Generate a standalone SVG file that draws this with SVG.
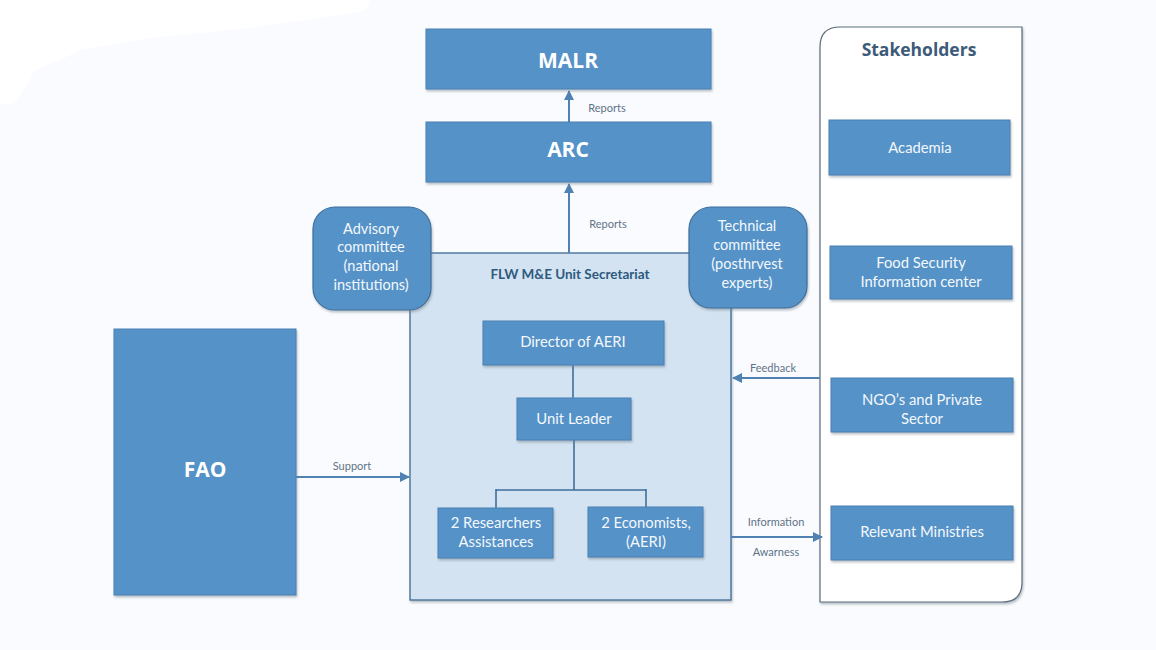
<svg xmlns="http://www.w3.org/2000/svg" width="1156" height="650" viewBox="0 0 1156 650">
<defs>
<filter id="sh" x="-10%" y="-10%" width="120%" height="130%">
<feDropShadow dx="1" dy="2" stdDeviation="1.2" flood-color="#6b7a88" flood-opacity="0.45"/>
</filter>
<marker id="ah" viewBox="0 0 10 10" refX="9" refY="5" markerWidth="5" markerHeight="5" orient="auto">
<path d="M0,0 L10,5 L0,10 z" fill="#4f82b3"/>
</marker>
<style>
.box{fill:#5592c8;stroke:#4a80b3;stroke-width:1;filter:url(#sh)}
.rbox{fill:#5592c8;stroke:#3f6f9c;stroke-width:1.2;filter:url(#sh)}
.t{font-family:Lato,"Open Sans",sans-serif;fill:#f4f8fc;text-anchor:middle;font-size:14.8px}
.tc{font-family:Lato,"Open Sans",sans-serif;fill:#f4f8fc;text-anchor:middle;font-size:14.5px}
.tb{font-family:"Open Sans",Lato,sans-serif;fill:#ffffff;text-anchor:middle;font-size:21px;font-weight:bold}
.lbl{font-family:Lato,"Open Sans",sans-serif;fill:#5f7387;text-anchor:middle;font-size:11px}
.con{stroke:#4f82b3;stroke-width:2;fill:none}
.line{stroke:#3f6f9c;stroke-width:1.6;fill:none}
</style>
</defs>
<rect width="1156" height="650" fill="#f9fbfe"/>
<path d="M0,0 H370 Q368,10 360,12 L250,28 L150,38 L80,50 Q70,55 60,60 L35,70 Q20,100 10,105 L0,104 Z" fill="#ffffff"/>

<g id="stakeholders">
<path d="M840,27 H1022 V582 Q1022,602 1002,602 H820 V47 Q820,27 840,27 Z" fill="#ffffff" stroke="#5c6c7c" stroke-width="1.2" filter="url(#sh)"/>
<text x="919" y="56" font-family="'Open Sans',Lato,sans-serif" font-size="17.5" font-weight="bold" fill="#3d5a78" text-anchor="middle">Stakeholders</text>
</g>

<g id="secretariat">
<rect x="410" y="253" width="321" height="347" fill="#d3e3f1" stroke="#3d6b94" stroke-width="1.3" filter="url(#sh)"/>
<text x="570" y="279" font-family="Lato,'Open Sans',sans-serif" font-size="13.5" font-weight="bold" fill="#2e5a80" text-anchor="middle">FLW M&amp;E Unit Secretariat</text>
</g>

<g id="connectors">
<line class="con" x1="569" y1="122" x2="569" y2="91" marker-end="url(#ah)"/>
<text class="lbl" x="607" y="112">Reports</text>
<line class="con" x1="569" y1="253" x2="569" y2="184" marker-end="url(#ah)"/>
<text class="lbl" x="608" y="228">Reports</text>
<line class="con" x1="296" y1="477" x2="409" y2="477" marker-end="url(#ah)"/>
<text class="lbl" x="352" y="470">Support</text>
<line class="con" x1="820" y1="378" x2="733" y2="378" marker-end="url(#ah)"/>
<text class="lbl" x="773" y="372">Feedback</text>
<line class="con" x1="731" y1="537" x2="822" y2="537" marker-end="url(#ah)"/>
<text class="lbl" x="776" y="526">Information</text>
<text class="lbl" x="776" y="556">Awarness</text>
<path class="line" d="M573,365 V398"/>
<path class="line" d="M574,440 V490 M496,490 H646 M496,489 V508 M646,489 V507"/>
</g>

<g id="malr"><rect class="box" x="426" y="29" width="285" height="60"/><text class="tb" x="568" y="68">MALR</text></g>
<g id="arc"><rect class="box" x="426" y="122" width="285" height="60"/><text class="tb" x="568" y="157">ARC</text></g>

<g id="advisory"><rect class="rbox" x="313" y="207" width="118" height="103" rx="22"/>
<text class="tc" x="371" y="234">Advisory</text><text class="tc" x="371" y="252">committee</text><text class="tc" x="371" y="271">(national</text><text class="tc" x="371" y="290">institutions)</text></g>

<g id="technical"><rect class="rbox" x="689" y="207" width="118" height="101" rx="22"/>
<text class="tc" x="747" y="231">Technical</text><text class="tc" x="747" y="250">committee</text><text class="tc" x="747" y="269">(posthrvest</text><text class="tc" x="747" y="288">experts)</text></g>

<g id="director"><rect class="box" x="483" y="321" width="181" height="44"/><text class="t" x="573" y="347">Director of AERI</text></g>
<g id="unitleader"><rect class="box" x="517" y="398" width="114" height="42"/><text class="t" x="574" y="424">Unit Leader</text></g>
<g id="researchers"><rect class="box" x="438" y="508" width="115" height="50"/><text class="t" x="496" y="528">2 Researchers</text><text class="t" x="496" y="547">Assistances</text></g>
<g id="economists"><rect class="box" x="588" y="507" width="115" height="50"/><text class="t" x="646" y="528">2 Economists,</text><text class="t" x="646" y="547">(AERI)</text></g>

<g id="fao"><rect class="box" x="114" y="329" width="182" height="266"/><text class="tb" x="205" y="477">FAO</text></g>

<g id="academia"><rect class="box" x="829" y="120" width="181" height="55"/><text class="t" x="920" y="153">Academia</text></g>
<g id="foodsecurity"><rect class="box" x="830" y="246" width="182" height="53"/><text class="t" x="921" y="268">Food Security</text><text class="t" x="921" y="287">Information center</text></g>
<g id="ngo"><rect class="box" x="831" y="378" width="182" height="54"/><text class="t" x="922" y="405">NGO’s and Private</text><text class="t" x="922" y="424">Sector</text></g>
<g id="ministries"><rect class="box" x="831" y="506" width="182" height="54"/><text class="t" x="922" y="537">Relevant Ministries</text></g>
</svg>
